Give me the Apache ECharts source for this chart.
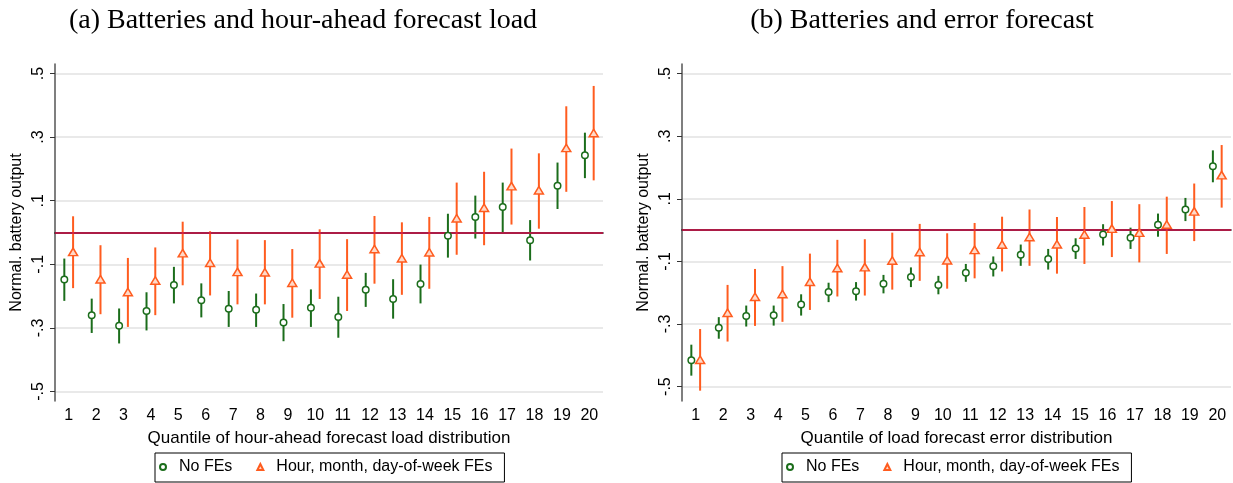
<!DOCTYPE html>
<html>
<head>
<meta charset="utf-8">
<script src="https://cdn.jsdelivr.net/npm/echarts@6/dist/echarts.min.js"></script>
<style>
  html, body { margin: 0; padding: 0; background: #fff; }
  #chart { width: 1233px; height: 483px; }
</style>
</head>
<body>
<div id="chart"></div>
<script>
// quantiles 1..20
var quantiles = [1, 2, 3, 4, 5, 6, 7, 8, 9, 10, 11, 12, 13, 14, 15, 16, 17, 18, 19, 20];
var yTicks = [-0.5, -0.3, -0.1, 0.1, 0.3, 0.5];

// (a) hour-ahead forecast load
var aNoFE   = [-0.148, -0.260, -0.293, -0.247, -0.165, -0.213, -0.240, -0.243, -0.283, -0.237, -0.266, -0.180, -0.209, -0.162, -0.010, 0.049, 0.080, -0.024, 0.147, 0.243];
var aNoFELo = [-0.215, -0.316, -0.349, -0.308, -0.223, -0.267, -0.297, -0.297, -0.342, -0.297, -0.331, -0.234, -0.271, -0.223, -0.079, -0.019, 0.000, -0.088, 0.074, 0.171];
var aNoFEHi = [-0.082, -0.208, -0.239, -0.188, -0.108, -0.160, -0.184, -0.192, -0.225, -0.179, -0.202, -0.127, -0.147, -0.101, 0.059, 0.116, 0.157, 0.039, 0.220, 0.314];
var aFE     = [-0.061, -0.147, -0.187, -0.151, -0.065, -0.095, -0.124, -0.125, -0.158, -0.097, -0.132, -0.052, -0.081, -0.062, 0.045, 0.078, 0.146, 0.133, 0.266, 0.313];
var aFELo   = [-0.175, -0.257, -0.297, -0.260, -0.166, -0.198, -0.226, -0.226, -0.268, -0.209, -0.247, -0.161, -0.196, -0.177, -0.070, -0.040, 0.025, 0.012, 0.128, 0.164];
var aFEHi   = [0.051, -0.040, -0.080, -0.047, 0.034, 0.004, -0.022, -0.024, -0.052, 0.010, -0.021, 0.052, 0.032, 0.049, 0.157, 0.191, 0.264, 0.249, 0.397, 0.461];

// (b) error forecast
var bNoFE   = [-0.416, -0.312, -0.274, -0.272, -0.238, -0.198, -0.195, -0.171, -0.150, -0.175, -0.136, -0.115, -0.079, -0.092, -0.059, -0.014, -0.024, 0.017, 0.066, 0.204];
var bNoFELo = [-0.465, -0.347, -0.308, -0.305, -0.273, -0.230, -0.225, -0.202, -0.182, -0.205, -0.165, -0.148, -0.114, -0.126, -0.092, -0.049, -0.060, -0.021, 0.029, 0.153];
var bNoFEHi = [-0.366, -0.278, -0.241, -0.241, -0.205, -0.168, -0.166, -0.143, -0.119, -0.146, -0.108, -0.084, -0.046, -0.060, -0.026, 0.019, 0.008, 0.053, 0.103, 0.255];
var bFE     = [-0.414, -0.264, -0.213, -0.204, -0.165, -0.121, -0.118, -0.097, -0.070, -0.096, -0.063, -0.046, -0.022, -0.045, -0.014, 0.005, -0.008, 0.018, 0.060, 0.176];
var bFELo   = [-0.513, -0.356, -0.306, -0.293, -0.255, -0.212, -0.209, -0.190, -0.162, -0.187, -0.154, -0.132, -0.114, -0.139, -0.108, -0.086, -0.103, -0.076, -0.035, 0.072];
var bFEHi   = [-0.316, -0.175, -0.124, -0.115, -0.075, -0.031, -0.029, -0.008, 0.020, -0.010, 0.023, 0.043, 0.066, 0.042, 0.074, 0.093, 0.083, 0.107, 0.149, 0.272];

var GREEN = '#1b6d1b';
var ORANGE = '#ff5c1f';
var SHIFT = 0.16;
var FONT = 'Liberation Sans';

function pts(vals, dx) {
  return vals.map(function (v, i) { return [quantiles[i] + dx, v]; });
}
function bars(lo, hi, dx) {
  return lo.map(function (v, i) { return [quantiles[i] + dx, v, hi[i]]; });
}
function errBar(color) {
  return function (params, api) {
    var p1 = api.coord([api.value(0), api.value(1)]);
    var p2 = api.coord([api.value(0), api.value(2)]);
    return {
      type: 'line',
      shape: { x1: p1[0], y1: p1[1], x2: p2[0], y2: p2[1] },
      style: { stroke: color, lineWidth: 2 }
    };
  };
}

function panel(idx, noFE, noLo, noHi, fe, feLo, feHi) {
  return [
    { type: 'custom', xAxisIndex: idx * 2 + 1, yAxisIndex: idx, renderItem: errBar(GREEN), data: bars(noLo, noHi, -SHIFT), silent: true, z: 2 },
    { type: 'custom', xAxisIndex: idx * 2 + 1, yAxisIndex: idx, renderItem: errBar(ORANGE), data: bars(feLo, feHi, SHIFT), silent: true, z: 2 },
    {
      name: 'No FEs', type: 'scatter', xAxisIndex: idx * 2 + 1, yAxisIndex: idx,
      symbol: 'circle', symbolSize: 6.5, z: 5,
      itemStyle: { color: '#fff', borderColor: GREEN, borderWidth: 1.5, opacity: 1 },
      data: pts(noFE, -SHIFT),
      markLine: {
        silent: true, symbol: 'none', label: { show: false },
        lineStyle: { color: '#d2124a', width: 1.5, type: 'solid' },
        data: [{ yAxis: 0 }]
      }
    },
    {
      name: 'Hour, month, day-of-week FEs', type: 'scatter', xAxisIndex: idx * 2 + 1, yAxisIndex: idx,
      symbol: 'triangle', symbolSize: [9, 7.5], z: 5,
      itemStyle: { color: '#ffd9c8', borderColor: ORANGE, borderWidth: 1.5, opacity: 1 },
      data: pts(fe, SHIFT)
    }
  ];
}

function xAxes(gi, name) {
  return [
    {
      type: 'category', gridIndex: gi, data: quantiles.map(String), boundaryGap: true,
      name: name, nameLocation: 'middle', nameGap: 29,
      nameTextStyle: { fontFamily: FONT, fontSize: 17, color: '#000' },
      axisLine: { lineStyle: { color: '#000', width: 1.5 } },
      axisTick: { alignWithLabel: true, length: 5, lineStyle: { color: '#333', width: 1 } },
      axisLabel: { fontFamily: FONT, fontSize: 16, color: '#000', margin: 7, interval: 0 },
      splitLine: { show: false }
    },
    { type: 'value', gridIndex: gi, min: 0.5, max: 20.5, show: false }
  ];
}

function yAxis(gi, min, max) {
  return {
    type: 'value', gridIndex: gi, min: min, max: max,
    name: 'Normal. battery output', nameLocation: 'middle', nameGap: 30, nameRotate: 90,
    nameTextStyle: { fontFamily: FONT, fontSize: 16, color: '#000' },
    axisLine: { show: true, lineStyle: { color: '#555', width: 1.5 } },
    axisTick: { show: true, length: 5, customValues: yTicks, lineStyle: { color: '#333' } },
    axisLabel: {
      customValues: yTicks, rotate: 90, fontFamily: FONT, fontSize: 16, color: '#000', margin: 8,
      formatter: function (v) { return v.toFixed(1).replace('0.', '.'); }
    },
    splitLine: { show: true, lineStyle: { color: '#e2e2e2', width: 1.5 } }
  };
}

function legend(left) {
  return {
    left: left, top: 453, orient: 'horizontal',
    borderColor: '#000', borderWidth: 1, padding: [6, 12, 7, 4], itemGap: 24,
    itemWidth: 6, itemHeight: 6,
    textStyle: { fontFamily: FONT, fontSize: 16, color: '#000', padding: [0, 0, 0, 8] },
    data: ['No FEs', 'Hour, month, day-of-week FEs']
  };
}

var chart = echarts.init(document.getElementById('chart'), null, { renderer: 'canvas' });
chart.setOption({
  backgroundColor: '#fff',
  animation: false,
  title: [
    { text: '(a) Batteries and hour-ahead forecast load', left: 298, top: 2, textAlign: 'center',
      textStyle: { fontFamily: 'Liberation Serif', fontWeight: 'normal', fontSize: 28, color: '#000' } },
    { text: '(b) Batteries and error forecast', left: 917, top: 2, textAlign: 'center',
      textStyle: { fontFamily: 'Liberation Serif', fontWeight: 'normal', fontSize: 28, color: '#000' } }
  ],
  legend: [legend(155), legend(782)],
  grid: [
    { left: 55, width: 548, top: 64, bottom: 82 },
    { left: 682, width: 549, top: 64, bottom: 82 }
  ],
  xAxis: xAxes(0, 'Quantile of hour-ahead forecast load distribution')
    .concat(xAxes(1, 'Quantile of load forecast error distribution')),
  yAxis: [yAxis(0, -0.53, 0.53), yAxis(1, -0.546, 0.531)],
  series: panel(0, aNoFE, aNoFELo, aNoFEHi, aFE, aFELo, aFEHi)
    .concat(panel(1, bNoFE, bNoFELo, bNoFEHi, bFE, bFELo, bFEHi))
});
</script>
</body>
</html>
